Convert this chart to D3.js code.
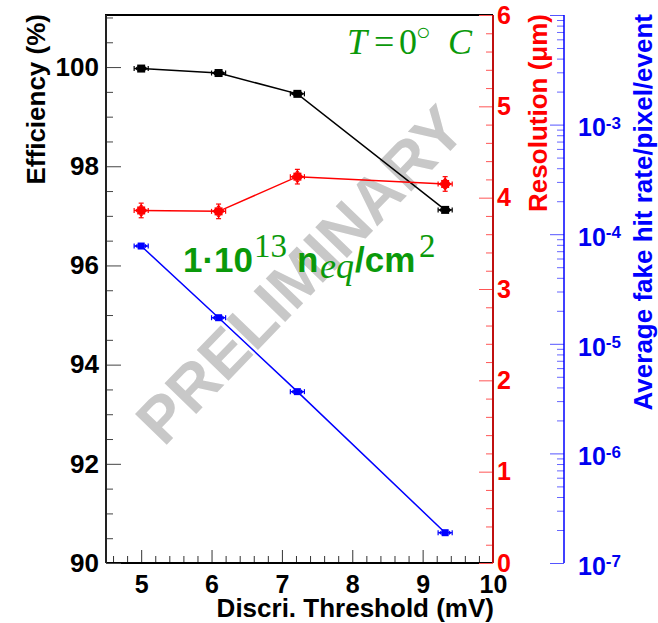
<!DOCTYPE html>
<html>
<head>
<meta charset="utf-8">
<script src="https://cdn.jsdelivr.net/npm/d3@7"></script>
<style>
  body { margin: 0; background: #fff; }
  svg { display: block; font-family: "Liberation Sans", Arial, sans-serif; }
</style>
</head>
<body>
<svg width="658" height="623"></svg>
<script>
// data
const threshold = [5.0, 6.1, 7.22, 9.32];
const thresholdErr = [0.1, 0.1, 0.1, 0.1];
const efficiency = [99.97, 99.88, 99.46, 97.12];
const efficiencyErr = [0.02, 0.03, 0.03, 0.05];
const resolution = [3.86, 3.85, 4.23, 4.15];
const resolutionErr = [0.08, 0.08, 0.08, 0.08];
const fakeRate = [7.8e-5, 1.73e-5, 3.66e-6, 1.89e-7];
const fakeRateErr = [0.5e-6, 0.2e-6, 0.05e-6, 0.005e-6];

const xTicks = [5, 6, 7, 8, 9, 10];
const effTicks = [90, 92, 94, 96, 98, 100];
const resTicks = [0, 1, 2, 3, 4, 5, 6];
const fakeDecades = [1e-7, 1e-6, 1e-5, 1e-4, 1e-3];

const svg = d3.select("svg");
const frameL = 106, frameR = 493, frameT = 15, frameB = 563;
const blueX = 564;
const labelFont = 25;
const titleFont = 26;

const x = d3.scaleLinear().domain([4.5, 10]).range([frameL, frameR]);
const yEff = d3.scaleLinear().domain([90, 101.05]).range([frameB, frameT]);
const yRes = d3.scaleLinear().domain([0, 6]).range([frameB, frameT]);
const yFake = d3.scaleLog().domain([1e-7, 1e-2]).range([frameB, frameT]);

// watermark goes under everything
svg.append("text")
    .attr("transform", "translate(316,290) rotate(-46)")
    .attr("text-anchor", "middle")
    .attr("font-size", 64)
    .attr("font-weight", "bold")
    .attr("fill", "#c8c8c8")
    .text("PRELIMINARY");

// frame
svg.append("path")
    .attr("d", `M${frameL},${frameB}V${frameT}H${frameR}`)
    .attr("fill", "none")
    .attr("stroke", "#000")
    .attr("stroke-width", 2);

function styleAxis(g, color, tickColor, size) {
  g.select(".domain").remove();
  g.selectAll(".tick line").attr("stroke", tickColor);
  g.selectAll("text")
      .attr("fill", color)
      .attr("font-size", size || labelFont)
      .attr("font-weight", "bold")
      .attr("font-family", "Liberation Sans, Arial, sans-serif");
}

// x axis
const xMinor = d3.range(4.6, 10.001, 0.2).filter(v => Math.abs(v - Math.round(v)) > 1e-6);
svg.append("g")
    .attr("transform", `translate(0,${frameB})`)
    .call(d3.axisBottom(x).tickValues(xMinor).tickSize(-7).tickFormat(""))
    .call(g => styleAxis(g, "#000", "#333"));
svg.append("g")
    .attr("transform", `translate(0,${frameB})`)
    .call(d3.axisBottom(x).tickValues(xTicks).tickSize(-13).tickPadding(12).tickFormat(d3.format("d")))
    .call(g => styleAxis(g, "#000", "#333"));
svg.append("line")
    .attr("x1", frameL).attr("x2", frameR).attr("y1", frameB).attr("y2", frameB)
    .attr("stroke", "#000").attr("stroke-width", 2);

// efficiency axis
const effMinor = d3.range(90.5, 101.01, 0.5).filter(v => v % 2 !== 0);
svg.append("g")
    .attr("transform", `translate(${frameL},0)`)
    .call(d3.axisLeft(yEff).tickValues(effMinor).tickSize(-7).tickFormat(""))
    .call(g => styleAxis(g, "#000", "#444"));
svg.append("g")
    .attr("transform", `translate(${frameL},0)`)
    .call(d3.axisLeft(yEff).tickValues(effTicks).tickSize(-15).tickPadding(7).tickFormat(d3.format("d")))
    .call(g => styleAxis(g, "#000", "#444", 26));
svg.append("line")
    .attr("x1", frameL).attr("x2", frameL).attr("y1", frameT).attr("y2", frameB)
    .attr("stroke", "#222").attr("stroke-width", 2);

// resolution axis (red)
const resMinor = d3.range(0.2, 6, 0.2).filter(v => Math.abs(v - Math.round(v)) > 1e-6);
svg.append("g")
    .attr("transform", `translate(${frameR},0)`)
    .call(d3.axisRight(yRes).tickValues(resMinor).tickSize(-7).tickFormat(""))
    .call(g => styleAxis(g, "#f00", "#f55"));
svg.append("g")
    .attr("transform", `translate(${frameR},0)`)
    .call(d3.axisRight(yRes).tickValues(resTicks).tickSize(-14).tickPadding(4).tickFormat(d3.format("d")))
    .call(g => styleAxis(g, "#f00", "#f55"));
svg.append("line")
    .attr("x1", frameR).attr("x2", frameR).attr("y1", frameT).attr("y2", frameB)
    .attr("stroke", "#c01010").attr("stroke-width", 2);

// fake hit rate axis (blue, log)
const fakeMinor = [];
fakeDecades.forEach(d => {
  for (let k = 2; k <= 9; k++) fakeMinor.push(d * k);
});
svg.append("g")
    .attr("transform", `translate(${blueX},0)`)
    .call(d3.axisRight(yFake).tickValues(fakeMinor).tickSize(-7).tickFormat(""))
    .call(g => styleAxis(g, "#00f", "#66f"));
const blueMajor = svg.append("g")
    .attr("transform", `translate(${blueX},0)`)
    .call(d3.axisRight(yFake).tickValues(fakeDecades.concat([1e-2])).tickSize(-14).tickPadding(14).tickFormat(""))
    .call(g => styleAxis(g, "#00f", "#55f"));
blueMajor.selectAll(".tick")
    .filter(d => d < 5e-3)
    .append("text")
    .attr("x", 14)
    .attr("dy", "0.45em")
    .attr("fill", "#0000f0")
    .attr("font-size", labelFont)
    .attr("font-weight", "bold")
    .call(t => t.append("tspan").text("10"))
    .call(t => t.append("tspan")
        .attr("dy", "-0.45em")
        .attr("font-size", 17)
        .text(d => Math.round(Math.log10(d))));
svg.append("line")
    .attr("x1", blueX).attr("x2", blueX).attr("y1", frameT).attr("y2", frameB)
    .attr("stroke", "#00f").attr("stroke-width", 1.5);

// axis titles
svg.append("text")
    .attr("x", frameR + 1).attr("y", 617)
    .attr("text-anchor", "end")
    .attr("font-size", titleFont).attr("font-weight", "bold")
    .text("Discri. Threshold (mV)");
svg.append("text")
    .attr("transform", "translate(45,14) rotate(-90)")
    .attr("text-anchor", "end")
    .attr("font-size", titleFont).attr("font-weight", "bold")
    .text("Efficiency (%)");
svg.append("text")
    .attr("transform", "translate(547,14) rotate(-90)")
    .attr("text-anchor", "end")
    .attr("font-size", titleFont).attr("font-weight", "bold")
    .attr("fill", "#f00")
    .text("Resolution (\u03bcm)");
svg.append("text")
    .attr("transform", "translate(652,14) rotate(-90)")
    .attr("text-anchor", "end")
    .attr("font-size", titleFont).attr("font-weight", "bold")
    .attr("fill", "#00f")
    .text("Average fake hit rate/pixel/event");

// series
const series = [
  {values: efficiency, errs: efficiencyErr, y: yEff, color: "#000", size: 8},
  {values: resolution, errs: resolutionErr, y: yRes, color: "#f00", size: 8},
  {values: fakeRate, errs: fakeRateErr, y: yFake, color: "#00f", size: 7}
];

series.forEach(s => {
  const pts = threshold.map((t, i) => ({
    px: x(t), py: s.y(s.values[i]),
    xl: x(t - thresholdErr[i]), xr: x(t + thresholdErr[i]),
    yu: s.y(s.values[i] + s.errs[i]), yd: s.y(s.values[i] - s.errs[i])
  }));
  const g = svg.append("g");
  g.append("path")
      .attr("d", d3.line().x(d => d.px).y(d => d.py)(pts))
      .attr("fill", "none")
      .attr("stroke", s.color)
      .attr("stroke-width", 1.5);
  const h = s.size / 2;
  pts.forEach(d => {
    // horizontal error with arrow caps
    g.append("line").attr("x1", d.xl).attr("x2", d.xr).attr("y1", d.py).attr("y2", d.py)
        .attr("stroke", s.color).attr("stroke-width", 1.2);
    [[d.xl, -1], [d.xr, 1]].forEach(([ex, dir]) => {
      g.append("line").attr("x1", ex).attr("x2", ex).attr("y1", d.py - 2.5).attr("y2", d.py + 2.5)
          .attr("stroke", s.color).attr("stroke-width", 1.2);
      g.append("path")
          .attr("d", `M${ex - dir * 0.5},${d.py}L${ex - dir * 3.5},${d.py - 2.5}L${ex - dir * 3.5},${d.py + 2.5}Z`)
          .attr("fill", s.color);
    });
    // vertical error, only where it sticks out of the marker
    if (d.yd - d.py > h + 1) {
      g.append("line").attr("x1", d.px).attr("x2", d.px).attr("y1", d.yu).attr("y2", d.yd)
          .attr("stroke", s.color).attr("stroke-width", 1.2);
      [[d.yu, -1], [d.yd, 1]].forEach(([ey, dir]) => {
        g.append("line").attr("x1", d.px - 2.5).attr("x2", d.px + 2.5).attr("y1", ey).attr("y2", ey)
            .attr("stroke", s.color).attr("stroke-width", 1.2);
        g.append("path")
            .attr("d", `M${d.px},${ey - dir * 0.5}L${d.px - 2.5},${ey - dir * 3.5}L${d.px + 2.5},${ey - dir * 3.5}Z`)
            .attr("fill", s.color);
      });
    }
    g.append("rect")
        .attr("x", d.px - h).attr("y", d.py - h)
        .attr("width", s.size).attr("height", s.size)
        .attr("fill", s.color);
  });
});

// annotations
const green = "#0a990a";
const temp = svg.append("text")
    .attr("y", 54)
    .attr("fill", green)
    .attr("font-family", "Liberation Serif, Times New Roman, serif")
    .attr("font-size", 36);
temp.append("tspan").attr("x", 347).attr("font-style", "italic").text("T");
temp.append("tspan").attr("x", 374).text("=");
temp.append("tspan").attr("x", 399).text("0");
temp.append("tspan").attr("x", 416).attr("dy", -14).attr("font-size", 24).text("\u25cb");
temp.append("tspan").attr("x", 448).attr("dy", 14).attr("font-style", "italic").text("C");

const flu = svg.append("text")
    .attr("y", 272)
    .attr("fill", green)
    .attr("font-size", 35)
    .attr("font-weight", "bold");
flu.append("tspan").attr("x", 183).text("1\u00b710");
flu.append("tspan").attr("x", 254).attr("y", 257)
    .attr("font-family", "Liberation Serif, serif").attr("font-weight", "normal").attr("font-size", 33)
    .text("13");
flu.append("tspan").attr("x", 297).attr("y", 272).text("n");
flu.append("tspan").attr("x", 320).attr("y", 278)
    .attr("font-family", "Liberation Serif, serif").attr("font-weight", "normal")
    .attr("font-style", "italic").attr("font-size", 36)
    .text("eq");
flu.append("tspan").attr("x", 355).attr("y", 272).text("/cm");
flu.append("tspan").attr("x", 419).attr("y", 257)
    .attr("font-family", "Liberation Serif, serif").attr("font-weight", "normal").attr("font-size", 33)
    .text("2");
</script>
</body>
</html>
